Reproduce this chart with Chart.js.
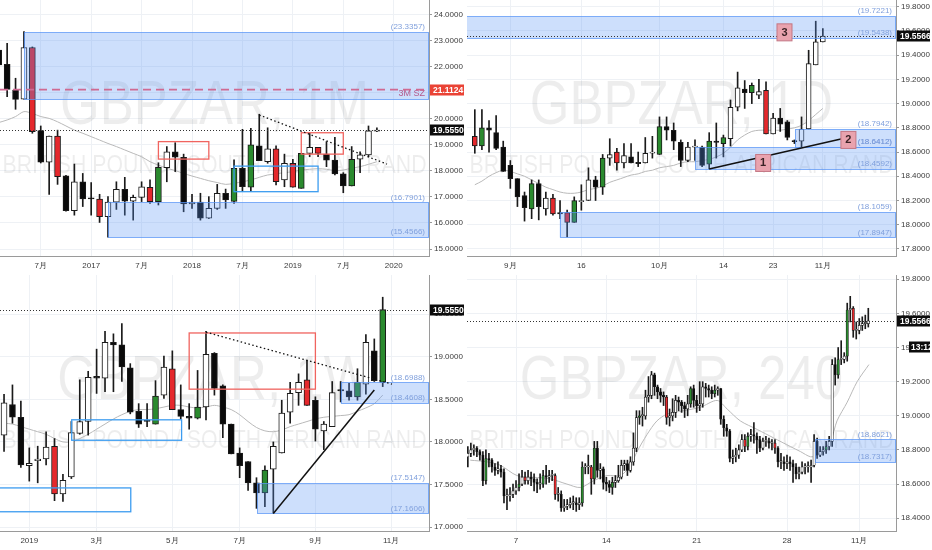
<!DOCTYPE html>
<html>
<head>
<meta charset="utf-8">
<script src="https://cdn.jsdelivr.net/npm/chart.js@4.4.1/dist/chart.umd.min.js"></script>
<style>
  html, body { margin: 0; padding: 0; background: #fff; }
  #wrap { position: relative; width: 932px; height: 550px; overflow: hidden; }
  canvas { position: absolute; }
</style>
</head>
<body>
<div id="wrap">
  <canvas id="c1" width="466" height="275" style="left:0;top:0"></canvas>
  <canvas id="c2" width="465" height="275" style="left:467px;top:0"></canvas>
  <canvas id="c3" width="466" height="275" style="left:0;top:275px"></canvas>
  <canvas id="c4" width="465" height="275" style="left:467px;top:275px"></canvas>
</div>
<script>
// ---- monthly (1M), month index 0 = Jul 2016, first candle at -5
const m1Open  = [22.63, 22.08, 21.10, 20.75, 22.73, 19.54, 18.33, 19.33, 17.81, 16.47, 17.58, 16.93, 16.92, 16.24, 16.80, 17.29, 16.84, 16.98, 17.37, 16.82, 18.12, 18.73, 18.52, 16.73, 16.80, 16.18, 16.56, 17.14, 16.83, 18.10, 17.37, 18.96, 18.35, 18.84, 17.65, 18.29, 17.33, 18.67, 18.90, 18.64, 18.41, 17.88, 17.42, 18.45, 18.61, 19.52];
const m1High  = [22.85, 22.89, 21.55, 23.34, 22.75, 19.72, 19.33, 19.56, 17.83, 18.26, 17.90, 17.55, 17.10, 17.01, 17.58, 17.75, 17.07, 17.58, 17.65, 18.31, 18.93, 19.08, 18.64, 17.10, 17.14, 17.01, 17.48, 17.30, 18.42, 19.59, 19.63, 20.17, 19.65, 18.96, 18.64, 18.44, 18.67, 19.44, 18.90, 19.12, 19.28, 17.93, 18.93, 18.73, 19.72, 19.65];
const m1Low   = [21.95, 20.84, 20.36, 20.75, 19.44, 18.30, 17.10, 17.48, 16.45, 16.30, 16.63, 16.30, 16.02, 15.46, 16.52, 16.30, 16.11, 16.82, 16.75, 16.69, 17.58, 17.97, 16.43, 16.56, 16.11, 16.17, 16.52, 16.56, 16.75, 17.20, 17.20, 18.39, 18.29, 17.46, 17.39, 17.37, 17.33, 18.54, 18.54, 18.16, 17.84, 17.16, 17.42, 17.93, 18.54, 19.50];
const m1Close = [22.06, 21.12, 20.74, 22.73, 19.50, 18.33, 19.33, 17.78, 16.47, 17.58, 16.92, 16.92, 16.24, 16.80, 17.29, 16.84, 16.98, 17.39, 16.82, 18.13, 18.73, 18.52, 16.73, 16.80, 16.18, 16.56, 17.14, 16.88, 18.10, 17.39, 19.00, 18.39, 18.84, 17.58, 18.29, 17.37, 18.67, 18.90, 18.67, 18.41, 17.88, 17.42, 18.44, 18.61, 19.53, 19.555];
const m1Ma    = [19.85, 19.95, 20.08, 20.27, 20.20, 20.08, 20.01, 19.88, 19.72, 19.56, 19.44, 19.31, 19.18, 19.05, 18.93, 18.80, 18.67, 18.54, 18.35, 18.22, 18.10, 18.01, 17.90, 17.80, 17.71, 17.62, 17.55, 17.48, 17.52, 17.58, 17.65, 17.75, 17.84, 17.88, 17.93, 17.97, 18.03, 18.06, 18.08, 18.06, 18.01, 18.03, 18.10, 18.16, 18.25, 18.35];
const m1Green = [14, 23, 25, 31, 37];
const m1Red   = [-1, 2, 7, 13, 28, 30, 33];
const m1XTicks  = [0, 6, 12, 18, 24, 30, 36, 42];
const m1XLabels = ['7月', '2017', '7月', '2018', '7月', '2019', '7月', '2020'];

// ---- daily (1D), day index 0 = 2 Sep 2019, first candle at -5
const d1Open  = [18.73, 18.65, 18.80, 18.76, 18.64, 18.49, 18.38, 18.24, 18.13, 18.34, 18.13, 18.22, 18.095, 18.10, 18.02, 18.19, 18.20, 18.37, 18.31, 18.55, 18.60, 18.51, 18.56, 18.51, 18.51, 18.59, 18.58, 18.81, 18.78, 18.68, 18.53, 18.64, 18.64, 18.50, 18.69, 18.67, 18.71, 18.97, 19.12, 19.09, 19.07, 19.11, 18.75, 18.88, 18.85, 18.69, 18.69, 18.79, 19.32, 19.51];
const d1High  = [18.95, 18.95, 18.86, 18.90, 18.69, 18.53, 18.38, 18.27, 18.37, 18.37, 18.27, 18.25, 18.20, 18.12, 18.23, 18.33, 18.47, 18.40, 18.58, 18.71, 18.63, 18.67, 18.67, 18.60, 18.72, 18.73, 18.89, 18.89, 18.84, 18.70, 18.68, 18.70, 18.65, 18.76, 18.84, 18.74, 19.03, 19.26, 19.19, 19.17, 19.20, 19.18, 18.92, 18.96, 18.86, 18.70, 18.89, 19.44, 19.68, 19.62];
const d1Low   = [18.59, 18.62, 18.60, 18.62, 18.44, 18.30, 18.15, 18.03, 18.05, 18.04, 18.08, 18.08, 18.05, 17.90, 18.02, 18.12, 18.20, 18.20, 18.25, 18.49, 18.45, 18.47, 18.51, 18.48, 18.51, 18.55, 18.58, 18.70, 18.62, 18.48, 18.52, 18.53, 18.48, 18.46, 18.55, 18.56, 18.65, 18.94, 18.96, 19.00, 19.04, 18.75, 18.75, 18.77, 18.70, 18.67, 18.64, 18.79, 19.32, 19.51];
const d1Close = [18.65, 18.80, 18.78, 18.63, 18.44, 18.38, 18.23, 18.14, 18.34, 18.15, 18.22, 18.09, 18.09, 18.02, 18.20, 18.20, 18.37, 18.31, 18.55, 18.58, 18.51, 18.57, 18.51, 18.505, 18.59, 18.60, 18.81, 18.78, 18.69, 18.53, 18.64, 18.65, 18.49, 18.69, 18.68, 18.72, 18.97, 19.13, 19.09, 19.15, 19.10, 18.75, 18.88, 18.83, 18.72, 18.685, 18.79, 19.33, 19.51, 19.5566];
const d1Ma    = [18.33, 18.36, 18.40, 18.43, 18.45, 18.44, 18.42, 18.40, 18.37, 18.34, 18.31, 18.29, 18.27, 18.26, 18.26, 18.27, 18.29, 18.30, 18.32, 18.35, 18.37, 18.39, 18.41, 18.42, 18.44, 18.45, 18.47, 18.48, 18.49, 18.51, 18.52, 18.52, 18.53, 18.54, 18.56, 18.59, 18.64, 18.70, 18.74, 18.77, 18.78, 18.78, 18.78, 18.78, 18.79, 18.80, 18.82, 18.86, 18.91, 18.96];
const d1Green = [-4, 3, 9, 13, 21, 28, 30, 34];
const d1Red   = [-5, 6, 8, 15, 36];
const d1XTicks  = [0, 10, 21, 30, 37, 44];
const d1XLabels = ['9月', '16', '10月', '14', '23', '11月'];

// ---- weekly (1W), week index 0 = week of 17 Dec 2018
const w1Open  = [18.08, 18.44, 18.29, 17.72, 17.78, 17.80, 17.95, 17.39, 17.59, 18.10, 18.24, 18.77, 18.75, 19.17, 19.14, 18.87, 18.36, 18.25, 18.21, 18.55, 18.86, 18.38, 18.30, 18.28, 18.41, 19.04, 18.66, 18.21, 17.87, 17.77, 17.52, 17.40, 17.68, 17.87, 18.35, 18.58, 18.73, 18.49, 18.13, 18.18, 18.61, 18.60, 18.53, 18.68, 19.07, 18.70];
const w1High  = [18.56, 18.67, 18.48, 17.93, 17.95, 18.12, 18.04, 17.62, 18.24, 18.73, 18.83, 19.09, 19.30, 19.27, 19.39, 18.92, 18.45, 18.45, 18.72, 19.01, 19.07, 18.67, 18.45, 18.84, 19.30, 19.05, 18.67, 18.21, 17.93, 17.77, 17.58, 17.72, 18.00, 18.49, 18.70, 18.80, 18.96, 18.53, 18.24, 18.71, 18.71, 18.69, 18.86, 19.26, 19.21, 19.70];
const w1Low   = [17.89, 18.22, 17.70, 17.54, 17.52, 17.73, 17.31, 17.30, 17.57, 18.09, 18.08, 18.57, 18.59, 18.59, 18.71, 18.33, 18.17, 18.18, 18.21, 18.51, 18.38, 18.27, 18.15, 18.27, 18.26, 18.55, 18.05, 17.86, 17.58, 17.43, 17.22, 17.24, 17.16, 17.87, 18.22, 18.43, 18.43, 18.01, 17.91, 18.18, 18.47, 18.49, 18.49, 18.56, 18.71, 18.65];
const w1Close = [18.46, 18.29, 17.73, 17.75, 17.80, 17.94, 17.39, 17.55, 18.11, 18.24, 18.76, 18.75, 19.17, 19.14, 18.88, 18.35, 18.21, 18.24, 18.54, 18.88, 18.38, 18.30, 18.28, 18.41, 19.03, 18.63, 18.21, 17.86, 17.72, 17.52, 17.40, 17.67, 17.95, 18.34, 18.57, 18.70, 18.43, 18.15, 18.21, 18.58, 18.60, 18.53, 18.70, 19.17, 18.72, 19.555];
const w1Ma    = [18.22, 18.21, 18.18, 18.15, 18.12, 18.09, 18.04, 18.00, 18.00, 18.04, 18.09, 18.15, 18.21, 18.27, 18.32, 18.36, 18.38, 18.38, 18.39, 18.41, 18.43, 18.43, 18.41, 18.40, 18.41, 18.43, 18.41, 18.38, 18.32, 18.24, 18.17, 18.13, 18.12, 18.14, 18.18, 18.21, 18.24, 18.27, 18.29, 18.30, 18.31, 18.32, 18.36, 18.40, 18.45, 18.55];
const w1Green = [18, 23, 31, 42, 45];
const w1Red   = [6, 20, 36];
const w1XTicks  = [3, 11, 20, 28, 37, 46];
const w1XLabels = ['2019', '3月', '5月', '7月', '9月', '11月'];

// ---- 4 hour (240), bar index 16 = 7 Oct 2019 00:00
const h4Open  = [18.76, 18.78, 18.80, 18.81, 18.79, 18.77, 18.62, 18.75, 18.74, 18.70,
  18.68, 18.69, 18.67, 18.53, 18.53, 18.54, 18.56, 18.58, 18.60, 18.64,
  18.62, 18.64, 18.63, 18.61, 18.60, 18.60, 18.65, 18.64, 18.65, 18.65,
  18.54, 18.54, 18.46, 18.47, 18.48, 18.49, 18.49, 18.48, 18.49, 18.70,
  18.70, 18.70, 18.63, 18.81, 18.68, 18.69, 18.61, 18.60, 18.58, 18.61,
  18.62, 18.64, 18.71, 18.72, 18.68, 18.73, 18.81, 18.99, 19.00, 19.00,
  19.11, 19.12, 19.24, 19.17, 19.14, 19.12, 19.11, 18.99, 19.00, 19.02,
  19.09, 19.08, 19.06, 19.04, 19.07, 19.16, 19.09, 19.06, 19.07, 19.17,
  19.16, 19.15, 19.13, 19.15, 19.16, 18.98, 18.93, 18.91, 18.75, 18.76,
  18.77, 18.80, 18.86, 18.82, 18.88, 18.89, 18.88, 18.86, 18.81, 18.85,
  18.85, 18.84, 18.84, 18.81, 18.73, 18.73, 18.72, 18.73, 18.72, 18.70,
  18.66, 18.67, 18.70, 18.70, 18.70, 18.71, 18.85, 18.77, 18.79, 18.80,
  18.82, 18.85, 19.30, 19.24, 19.33, 19.33, 19.35, 19.62, 19.63, 19.50,
  19.50, 19.53, 19.54, 19.54];
const h4High  = [18.82, 18.84, 18.83, 18.82, 18.80, 18.79, 18.80, 18.78, 18.75, 18.72,
  18.73, 18.71, 18.69, 18.57, 18.58, 18.60, 18.62, 18.66, 18.68, 18.67,
  18.68, 18.67, 18.66, 18.63, 18.66, 18.68, 18.71, 18.68, 18.68, 18.66,
  18.58, 18.56, 18.51, 18.51, 18.52, 18.53, 18.52, 18.52, 18.73, 18.72,
  18.77, 18.71, 18.85, 18.85, 18.72, 18.70, 18.64, 18.62, 18.64, 18.65,
  18.71, 18.74, 18.74, 18.74, 18.76, 18.90, 19.03, 19.03, 19.05, 19.15,
  19.23, 19.26, 19.25, 19.18, 19.16, 19.14, 19.12, 19.04, 19.10, 19.12,
  19.11, 19.09, 19.08, 19.12, 19.17, 19.18, 19.12, 19.20, 19.20, 19.19,
  19.18, 19.17, 19.18, 19.17, 19.16, 19.00, 18.95, 18.92, 18.80, 18.81,
  18.83, 18.89, 18.89, 18.90, 18.92, 18.96, 18.90, 18.88, 18.87, 18.88,
  18.87, 18.86, 18.86, 18.82, 18.78, 18.76, 18.77, 18.76, 18.74, 18.72,
  18.70, 18.73, 18.72, 18.73, 18.74, 18.89, 18.87, 18.82, 18.82, 18.85,
  18.88, 19.33, 19.34, 19.40, 19.44, 19.37, 19.66, 19.70, 19.64, 19.55,
  19.57, 19.58, 19.59, 19.63];
const h4Low   = [18.70, 18.76, 18.77, 18.76, 18.74, 18.59, 18.60, 18.70, 18.67, 18.65,
  18.66, 18.64, 18.49, 18.45, 18.50, 18.52, 18.54, 18.56, 18.59, 18.60,
  18.60, 18.59, 18.56, 18.55, 18.57, 18.58, 18.60, 18.61, 18.62, 18.51,
  18.50, 18.44, 18.44, 18.45, 18.46, 18.45, 18.44, 18.45, 18.47, 18.66,
  18.66, 18.54, 18.60, 18.64, 18.63, 18.57, 18.56, 18.55, 18.54, 18.58,
  18.61, 18.63, 18.68, 18.65, 18.67, 18.71, 18.79, 18.95, 18.94, 18.98,
  19.08, 19.10, 19.12, 19.10, 19.08, 19.06, 18.95, 18.94, 18.97, 18.99,
  19.03, 19.02, 18.99, 19.00, 19.05, 19.05, 19.02, 19.03, 19.05, 19.11,
  19.11, 19.10, 19.11, 19.12, 18.95, 18.88, 18.88, 18.73, 18.72, 18.73,
  18.75, 18.79, 18.79, 18.80, 18.85, 18.84, 18.78, 18.79, 18.80, 18.82,
  18.81, 18.80, 18.78, 18.70, 18.69, 18.68, 18.69, 18.68, 18.61, 18.63,
  18.63, 18.66, 18.66, 18.67, 18.61, 18.70, 18.75, 18.76, 18.77, 18.78,
  18.80, 18.82, 19.18, 19.22, 19.30, 19.31, 19.32, 19.55, 19.46, 19.45,
  19.48, 19.50, 19.51, 19.52];
const h4Close = [18.78, 18.80, 18.81, 18.79, 18.77, 18.62, 18.75, 18.74, 18.70, 18.68,
  18.69, 18.67, 18.53, 18.53, 18.54, 18.56, 18.58, 18.60, 18.64, 18.62,
  18.64, 18.63, 18.61, 18.60, 18.60, 18.65, 18.64, 18.65, 18.65, 18.54,
  18.54, 18.46, 18.47, 18.48, 18.49, 18.49, 18.48, 18.49, 18.70, 18.70,
  18.70, 18.63, 18.81, 18.68, 18.69, 18.61, 18.60, 18.58, 18.61, 18.62,
  18.64, 18.71, 18.72, 18.68, 18.73, 18.81, 18.99, 19.00, 19.00, 19.11,
  19.12, 19.24, 19.17, 19.14, 19.12, 19.11, 18.99, 19.00, 19.02, 19.09,
  19.08, 19.06, 19.04, 19.07, 19.16, 19.09, 19.06, 19.07, 19.17, 19.16,
  19.15, 19.13, 19.15, 19.16, 18.98, 18.93, 18.91, 18.75, 18.76, 18.77,
  18.80, 18.86, 18.82, 18.88, 18.89, 18.88, 18.86, 18.81, 18.85, 18.85,
  18.84, 18.84, 18.81, 18.73, 18.73, 18.72, 18.73, 18.72, 18.70, 18.66,
  18.67, 18.70, 18.70, 18.70, 18.71, 18.85, 18.77, 18.79, 18.80, 18.82,
  18.85, 19.30, 19.24, 19.33, 19.33, 19.35, 19.62, 19.63, 19.50, 19.50,
  19.53, 19.54, 19.54, 19.5566];
const h4MaX = [0.8, 6.4, 10.8, 16.3, 21.9, 27.4, 32.9, 37.4, 41.8, 46.2, 50.7, 54, 56.2, 59.5, 62.8, 66.2, 71.7, 77.2, 82.8, 86.1, 90.5, 96.1, 101.6, 107.1, 110.5, 113.8, 116, 120.4, 122.6, 126, 129.3, 133.2];
const h4MaY = [18.74, 18.73, 18.71, 18.65, 18.64, 18.63, 18.60, 18.58, 18.62, 18.65, 18.65, 18.71, 18.79, 18.89, 18.97, 19.01, 19.03, 19.05, 19.09, 19.04, 18.97, 18.92, 18.87, 18.82, 18.79, 18.76, 18.77, 18.85, 18.97, 19.08, 19.20, 19.30];
const h4Green = [6, 17, 25, 38, 42, 48, 57, 74, 82, 93, 119, 123, 126];
const h4Red   = [19, 29, 41, 66, 92, 102, 128];
const h4XTicks  = [16, 46, 76, 106, 130];
const h4XLabels = ['7', '14', '21', '28', '11月'];

// ---- drawings (value coordinates)
const m1ZoneX0 = [-2, 8], m1ZoneTop = [23.3357, 16.7901], m1ZoneBottom = [20.75, 15.4566];
const m1RedX0 = [14, 31], m1RedX1 = [20, 36], m1RedTop = [19.12, 19.46], m1RedBottom = [18.45, 18.64];
const m1BlueX0 = [23], m1BlueX1 = [33], m1BlueTop = [18.18], m1BlueBottom = [17.20];
const m1Trend = [26, 20.14, 41.2, 18.26];
const m1SupplyLine = 21.1124;
const m1Last = 19.555;

const d1ZoneX0 = [-7, 40.1, 26.06, 6.95], d1ZoneTop = [19.7221, 18.7942, 18.6412, 18.1059], d1ZoneBottom = [19.5438, 18.6412, 18.4592, 17.8947];
const d1Line = [28, 18.46, 46.7, 18.71];
const d1TagX = [35.6, 47.6, 38.6], d1TagY = [18.51, 18.70, 19.588], d1TagText = ['1', '2', '3'];
const d1Last = 19.5566;

const w1ZoneX0 = [30.1, 40.0], w1ZoneTop = [17.5147, 18.6988], w1ZoneBottom = [17.1606, 18.4608];
const w1RedX0 = [22], w1RedX1 = [37], w1RedTop = [19.28], w1RedBottom = [18.62];
const w1BlueX0 = [8.04, -1], w1BlueX1 = [21.1, 15.06], w1BlueTop = [18.26, 17.46], w1BlueBottom = [18.02, 17.18];
const w1Trend = [24, 19.29, 46.1, 18.68];
const w1Line = [32, 17.16, 44, 18.61];
const w1Last = 19.555;

const h4ZoneX0 = [115.4], h4ZoneTop = [18.8621], h4ZoneBottom = [18.7317];
const h4Last = 19.5566;

const FONT = '"Liberation Sans", Arial, sans-serif';
const GREEN = '#2a8a2e', RED = '#e5282c';
const GRID = '#eef1f5', AXIS = '#9a9a9a', TXT = '#3a3a3a';
const ZONE = 'rgba(90,150,245,0.3)', ZONE_LINE = 'rgba(90,150,245,0.75)';
const SUBTITLE = 'BRITISH POUND / SOUTH AFRICAN RAND';

function zip4(x0, x1, top, bottom) {
  return x0.map((v, i) => ({ x0: v, x1: x1 ? x1[i] : null, top: top[i], bottom: bottom[i] }));
}

function makeOverlay(p) {
  return {
    id: 'ov_' + p.id,
    beforeDatasetsDraw(chart) {
      const ctx = chart.ctx, a = chart.chartArea;
      const cx = (a.left + a.right) / 2;
      ctx.save();
      ctx.beginPath(); ctx.rect(a.left, a.top, a.width, a.height); ctx.clip();
      ctx.fillStyle = 'rgba(0,0,0,0.07)';
      ctx.textAlign = 'center';
      ctx.font = '63px ' + FONT;
      ctx.save(); ctx.translate(cx, 124); ctx.scale(0.81, 1); ctx.fillText(p.title, 0, 0); ctx.restore();
      ctx.font = '25px ' + FONT;
      const w = ctx.measureText(SUBTITLE).width;
      ctx.save(); ctx.translate(cx, 173); ctx.scale(424 / w, 1); ctx.fillText(SUBTITLE, 0, 0); ctx.restore();
      ctx.restore();
    },
    afterDatasetsDraw(chart) {
      const ctx = chart.ctx, a = chart.chartArea;
      const X = v => chart.scales.x.getPixelForValue(v);
      const Y = v => chart.scales.y.getPixelForValue(v);
      ctx.save();
      ctx.beginPath(); ctx.rect(a.left, a.top, a.width, a.height); ctx.clip();

      // filled zones reaching the price scale
      (p.zones || []).forEach(z => {
        const x0 = Math.max(X(z.x0), a.left - 2), y0 = Math.round(Y(z.top)) + 0.5, y1 = Math.round(Y(z.bottom)) + 0.5;
        ctx.fillStyle = ZONE;
        ctx.fillRect(x0, y0, a.right - x0, y1 - y0);
        ctx.strokeStyle = ZONE_LINE; ctx.lineWidth = 1;
        ctx.strokeRect(Math.round(x0) + 0.5, y0, a.right - Math.round(x0) - 1, y1 - y0);
      });
      ctx.font = '8px ' + FONT;
      ctx.textAlign = 'right'; ctx.textBaseline = 'bottom';
      (p.zones || []).forEach((z, i) => {
        ctx.fillStyle = '#7f9fdc';
        ctx.fillText('(' + z.top.toFixed(4) + ')', a.right - 4, Y(z.top) - 1);
        if (p.zoneNote && p.zoneNote[i]) {
          ctx.fillStyle = '#b45a8c';
          ctx.font = '9px ' + FONT;
          ctx.fillText(p.zoneNote[i], a.right - 4, Y(z.bottom) - 1);
          ctx.font = '8px ' + FONT;
        } else {
          ctx.fillText('(' + z.bottom.toFixed(4) + ')', a.right - 4, Y(z.bottom) - 1);
        }
      });

      // outline boxes
      const box = (b, color) => {
        ctx.strokeStyle = color; ctx.lineWidth = 1.3;
        ctx.strokeRect(X(b.x0), Y(b.top), X(b.x1) - X(b.x0), Y(b.bottom) - Y(b.top));
      };
      (p.redBoxes || []).forEach(b => box(b, '#f0645f'));
      (p.blueBoxes || []).forEach(b => box(b, '#3c9cf0'));

      // supply line (pink dashed)
      if (p.supply) {
        ctx.strokeStyle = '#cf6a92'; ctx.lineWidth = 1.6; ctx.setLineDash([8, 5]);
        ctx.beginPath(); ctx.moveTo(a.left, Y(p.supply)); ctx.lineTo(a.right, Y(p.supply)); ctx.stroke();
        ctx.setLineDash([]);
      }
      // dotted trend lines
      if (p.trend) {
        const t = p.trend;
        ctx.strokeStyle = '#111'; ctx.lineWidth = 1.3; ctx.setLineDash([1.5, 2.5]);
        ctx.beginPath(); ctx.moveTo(X(t[0]), Y(t[1])); ctx.lineTo(X(t[2]), Y(t[3])); ctx.stroke();
        ctx.setLineDash([]);
      }
      // solid trend lines
      if (p.line) {
        const t = p.line;
        ctx.strokeStyle = '#111'; ctx.lineWidth = 1.5;
        ctx.beginPath(); ctx.moveTo(X(t[0]), Y(t[1])); ctx.lineTo(X(t[2]), Y(t[3])); ctx.stroke();
      }
      // last price dotted line
      const ly = Math.round(Y(p.last)) + 0.5;
      ctx.strokeStyle = '#333'; ctx.lineWidth = 1; ctx.setLineDash([1, 2]);
      ctx.beginPath(); ctx.moveTo(a.left, ly); ctx.lineTo(a.right, ly); ctx.stroke();
      ctx.setLineDash([]);

      // numbered tags
      (p.tags || []).forEach(t => {
        const x = X(t.x), y = Y(t.y);
        ctx.fillStyle = '#e9a3ae';
        ctx.fillRect(x - 7.5, y - 8.5, 15, 17);
        ctx.strokeStyle = '#c47784'; ctx.lineWidth = 1;
        ctx.strokeRect(x - 7.5, y - 8.5, 15, 17);
        ctx.fillStyle = '#3b2326';
        ctx.font = 'bold 11px ' + FONT;
        ctx.textAlign = 'center'; ctx.textBaseline = 'middle';
        ctx.fillText(t.text, x, y + 0.5);
      });
      ctx.restore();
    },
    afterDraw(chart) {
      const ctx = chart.ctx, a = chart.chartArea;
      const Y = v => chart.scales.y.getPixelForValue(v);
      const tag = (y, text, bg) => {
        ctx.fillStyle = bg;
        ctx.fillRect(a.right + 1, Math.round(y) - 5.5, chart.width - a.right - 3, 11);
        ctx.fillStyle = '#fff';
        ctx.font = 'bold 8.5px ' + FONT;
        ctx.textAlign = 'left'; ctx.textBaseline = 'middle';
        ctx.fillText(text, a.right + 4, Math.round(y) + 0.5);
      };
      ctx.save();
      if (p.supply) tag(Y(p.supply), p.supply.toFixed(4), '#ea4335');
      tag(Y(p.last), p.last.toFixed(4), '#0c0c0c');
      if (p.countdown) {
        const y = Y(p.last) + 26;
        ctx.fillStyle = '#0c0c0c';
        ctx.fillRect(a.right + 13, Math.round(y) - 5.5, 21, 11);
        ctx.fillStyle = '#fff';
        ctx.font = 'bold 8.5px ' + FONT;
        ctx.textAlign = 'left'; ctx.textBaseline = 'middle';
        ctx.fillText(p.countdown, a.right + 15, Math.round(y) + 0.5);
      }
      ctx.restore();
    }
  };
}

function candleChart(p) {
  const xs = p.open.map((_, i) => p.first + i);
  const fills = xs.map((x, i) => {
    if (p.green.includes(x)) return GREEN;
    if (p.red.includes(x)) return RED;
    return p.close[i] >= p.open[i] ? '#ffffff' : '#0a0a0a';
  });
  const canvas = document.getElementById(p.id);
  const axisW = canvas.width - 429;

  return new Chart(canvas, {
    type: 'bar',
    data: {
      datasets: [
        {
          type: 'line', data: p.ma, borderColor: '#b9b9b9', borderWidth: 1,
          pointRadius: 0, tension: 0.3, order: 3
        },
        {
          data: xs.map((x, i) => ({ x: x, y: [p.low[i], p.high[i]] })),
          backgroundColor: '#1a1a1a', barThickness: 1, minBarLength: 1, grouped: false, order: 2
        },
        {
          data: xs.map((x, i) => ({ x: x, y: [p.open[i], p.close[i]] })),
          backgroundColor: fills, borderColor: '#1a1a1a', borderWidth: p.bw > 3 ? 1 : 0.7,
          borderSkipped: false, barThickness: p.bw, minBarLength: 1.2, grouped: false, order: 1
        }
      ]
    },
    options: {
      responsive: false,
      animation: false,
      events: [],
      layout: { padding: 0 },
      plugins: { legend: { display: false }, tooltip: { enabled: false } },
      scales: {
        x: {
          type: 'linear', min: p.xmin, max: p.xmax, offset: false,
          grid: { color: GRID, drawTicks: false, offset: false },
          border: { color: AXIS },
          afterBuildTicks: s => { s.ticks = p.xTicks.map(v => ({ value: v })); },
          afterFit: s => { s.height = 19; s.paddingLeft = 0; s.paddingRight = 0; },
          ticks: {
            autoSkip: false, maxRotation: 0, padding: 5, color: TXT,
            font: { size: 8, family: FONT },
            callback: v => p.xLabels[p.xTicks.indexOf(v)]
          }
        },
        y: {
          position: 'right', min: p.ymin, max: p.ymax,
          grid: { color: GRID, tickLength: 3, tickColor: '#999' },
          border: { color: AXIS },
          afterFit: s => { s.width = axisW; s.paddingTop = 0; s.paddingBottom = 0; },
          ticks: {
            stepSize: p.step, includeBounds: false, padding: 2, color: TXT,
            font: { size: 8, family: FONT },
            callback: v => v.toFixed(4)
          }
        }
      }
    },
    plugins: [makeOverlay(p)]
  });
}

candleChart({
  id: 'c1', title: 'GBPZAR, 1M', first: -5,
  open: m1Open, high: m1High, low: m1Low, close: m1Close,
  ma: m1Ma.map((v, i) => ({ x: i - 5, y: v })),
  green: m1Green, red: m1Red, bw: 6,
  xmin: -4.85, xmax: 46.2, ymin: 14.734, ymax: 24.55, step: 1,
  xTicks: m1XTicks, xLabels: m1XLabels,
  zones: zip4(m1ZoneX0, null, m1ZoneTop, m1ZoneBottom), zoneNote: ['3M SZ', null],
  redBoxes: zip4(m1RedX0, m1RedX1, m1RedTop, m1RedBottom),
  blueBoxes: zip4(m1BlueX0, m1BlueX1, m1BlueTop, m1BlueBottom),
  trend: m1Trend, supply: m1SupplyLine, last: m1Last
});

candleChart({
  id: 'c2', title: 'GBPZAR, 1D', first: -5,
  open: d1Open, high: d1High, low: d1Low, close: d1Close,
  ma: d1Ma.map((v, i) => ({ x: i - 5, y: v })),
  green: d1Green, red: d1Red, bw: 5,
  xmin: -6.1, xmax: 54.3, ymin: 17.742, ymax: 19.855, step: 0.2,
  xTicks: d1XTicks, xLabels: d1XLabels,
  zones: zip4(d1ZoneX0, null, d1ZoneTop, d1ZoneBottom),
  line: d1Line,
  tags: d1TagX.map((x, i) => ({ x: x, y: d1TagY[i], text: d1TagText[i] })),
  last: d1Last
});

candleChart({
  id: 'c3', title: 'GBPZAR, 1W', first: 0,
  open: w1Open, high: w1High, low: w1Low, close: w1Close,
  ma: w1Ma.map((v, i) => ({ x: i, y: v })),
  green: w1Green, red: w1Red, bw: 6,
  xmin: -0.48, xmax: 50.5, ymin: 16.954, ymax: 19.961, step: 0.5,
  xTicks: w1XTicks, xLabels: w1XLabels,
  zones: zip4(w1ZoneX0, null, w1ZoneTop, w1ZoneBottom),
  redBoxes: zip4(w1RedX0, w1RedX1, w1RedTop, w1RedBottom),
  blueBoxes: zip4(w1BlueX0, w1BlueX1, w1BlueTop, w1BlueBottom),
  trend: w1Trend, line: w1Line, last: w1Last
});

candleChart({
  id: 'c4', title: 'GBPZAR, 240', first: 0,
  open: h4Open, high: h4High, low: h4Low, close: h4Close,
  ma: h4MaX.map((x, i) => ({ x: x, y: h4MaY[i] })),
  green: h4Green, red: h4Red, bw: 2.4,
  xmin: -0.28, xmax: 142.2, ymin: 18.325, ymax: 19.825, step: 0.2,
  xTicks: h4XTicks, xLabels: h4XLabels,
  zones: zip4(h4ZoneX0, null, h4ZoneTop, h4ZoneBottom),
  last: h4Last, countdown: '13:12'
});
</script>
</body>
</html>
